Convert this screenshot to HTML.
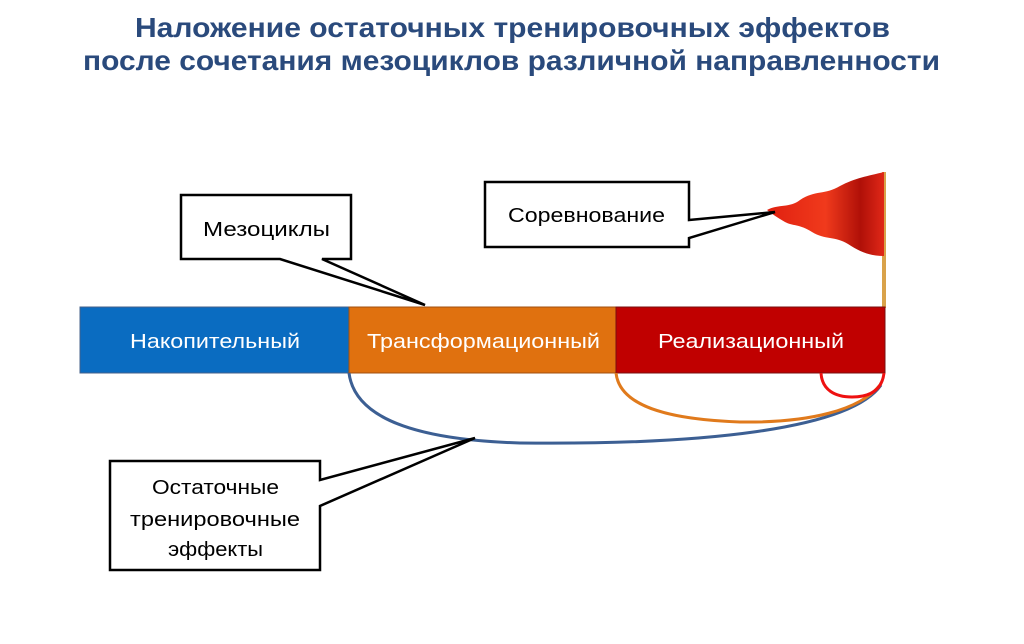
<!DOCTYPE html>
<html><head><meta charset="utf-8"><style>
body{margin:0;width:1024px;height:639px;background:#fff;overflow:hidden;font-family:"Liberation Sans",sans-serif}
</style></head><body>
<svg width="1024" height="639" viewBox="0 0 1024 639" xmlns="http://www.w3.org/2000/svg">
<defs>
<linearGradient id="fg" x1="0" x2="1" y1="0" y2="0">
<stop offset="0" stop-color="#e02010"/><stop offset="0.5" stop-color="#f03a1c"/><stop offset="0.8" stop-color="#b01008"/><stop offset="1" stop-color="#e02818"/>
</linearGradient>
</defs>
<g font-family="Liberation Sans, sans-serif" font-weight="bold" font-size="28" fill="#2a4a7c">
<text x="135" y="37" textLength="755" lengthAdjust="spacingAndGlyphs">Наложение остаточных тренировочных эффектов</text>
<text x="83" y="70" textLength="857" lengthAdjust="spacingAndGlyphs">после сочетания мезоциклов различной направленности</text>
</g>
<!-- flag -->
<line x1="884" y1="172" x2="884" y2="308" stroke="#d9a24a" stroke-width="4"/>
<path d="M767,210 C778,204 790,208 800,200 C815,190 825,195 840,186 C855,178 868,176 884,172 L884,256 C870,256 860,252 848,244 C835,236 825,240 812,232 C800,224 792,226 785,222 C778,218 772,214 767,210 Z" fill="url(#fg)"/>
<!-- bar -->
<rect x="80" y="307" width="269" height="66" fill="#0a6cc1" stroke="#44608a" stroke-width="1"/>
<rect x="349" y="307" width="267" height="66" fill="#e0710f" stroke="#a05010" stroke-width="1"/>
<rect x="616" y="307" width="269" height="66" fill="#c00000" stroke="#7a1010" stroke-width="1"/>
<g font-size="20" fill="#fff">
<text x="130" y="348" textLength="170" lengthAdjust="spacingAndGlyphs">Накопительный</text>
<text x="367" y="348" textLength="233" lengthAdjust="spacingAndGlyphs">Трансформационный</text>
<text x="658" y="348" textLength="186" lengthAdjust="spacingAndGlyphs">Реализационный</text>
</g>
<!-- arcs -->
<path d="M349,373 C355,420 420,440 520,443 C700,445 850,430 881,385" fill="none" stroke="#3c5f93" stroke-width="3"/>
<path d="M616,373 C620,410 680,420 740,422 C810,423 860,410 880,385" fill="none" stroke="#e07a1c" stroke-width="3"/>
<path d="M821,373 C822,390 835,397 852,397 C870,397 882,390 884,373" fill="none" stroke="#ee1111" stroke-width="3"/>
<!-- callouts -->
<path d="M181,195 L351,195 L351,259 L322,259 L425,305 L280,259 L181,259 Z" fill="#fff" stroke="#000" stroke-width="2.5" stroke-linejoin="miter"/>
<text x="203" y="236" font-size="20" fill="#000" textLength="127" lengthAdjust="spacingAndGlyphs">Мезоциклы</text>
<path d="M485,182 L689,182 L689,220 L775,212 L689,238 L689,247 L485,247 Z" fill="#fff" stroke="#000" stroke-width="2.5"/>
<text x="508" y="222" font-size="20" fill="#000" textLength="157" lengthAdjust="spacingAndGlyphs">Соревнование</text>
<path d="M110,461 L320,461 L320,480 L475,438 L320,506 L320,570 L110,570 Z" fill="#fff" stroke="#000" stroke-width="2.5"/>
<g font-size="20" fill="#000">
<text x="152" y="494" textLength="127" lengthAdjust="spacingAndGlyphs">Остаточные</text>
<text x="130" y="526" textLength="170" lengthAdjust="spacingAndGlyphs">тренировочные</text>
<text x="168" y="556" textLength="95" lengthAdjust="spacingAndGlyphs">эффекты</text>
</g>
</svg>
</body></html>
